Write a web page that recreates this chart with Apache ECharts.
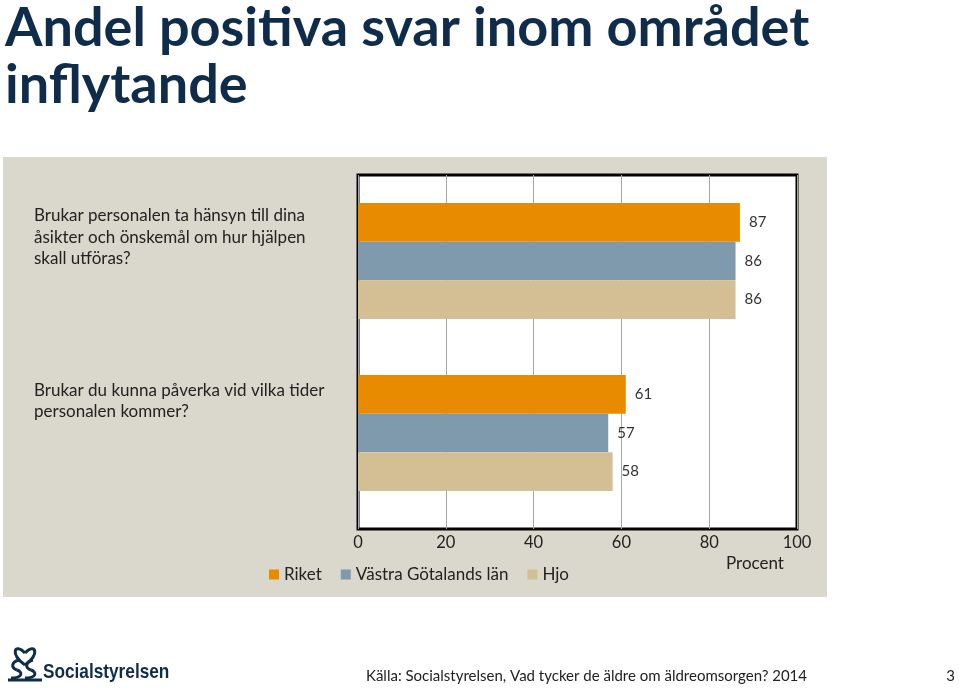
<!DOCTYPE html>
<html>
<head>
<meta charset="utf-8">
<script src="https://cdn.jsdelivr.net/npm/echarts@6/dist/echarts.min.js"></script>
<style>
html,body{margin:0;padding:0;background:#fff;}
#chart{width:959px;height:688px;}
</style>
</head>
<body>
<div id="chart"></div>
<script>
var titleLines = ['Andel positiva svar inom området', 'inflytande'];
var categories = [
  'Brukar personalen ta hänsyn till dina\nåsikter och önskemål om hur hjälpen\nskall utföras?',
  'Brukar du kunna påverka vid vilka tider\npersonalen kommer?'
];
var seriesNames = ['Riket', 'Västra Götalands län', 'Hjo'];
var riket = [87, 61];
var vastraGotaland = [86, 57];
var hjo = [86, 58];
var xTicks = [0, 20, 40, 60, 80, 100];
var axisName = 'Procent';
var sourceText = 'Källa: Socialstyrelsen, Vad tycker de äldre om äldreomsorgen? 2014';
var pageNumber = '3';
var logoText = 'Socialstyrelsen';

var colors = ['#E98B00', '#7F9AAD', '#D4BE94'];
var FONT = 'Lato';
var NAVY = '#0F2D4B';

var chart = echarts.init(document.getElementById('chart'), null, {renderer: 'canvas'});

function mkSeries(name, data, color) {
  return {
    name: name, type: 'bar', data: data, xAxisIndex: 1, yAxisIndex: 1,
    barGap: '0%', barCategoryGap: '32.7%',
    itemStyle: {color: color},
    label: {show: true, position: 'right', distance: 9, color: '#333', fontFamily: FONT, fontSize: 15}
  };
}
function curve(x1, y1, c1x, c1y, c2x, c2y, x2, y2) {
  return {type: 'bezierCurve', shape: {x1: x1, y1: y1, cpx1: c1x, cpy1: c1y, cpx2: c2x, cpy2: c2y, x2: x2, y2: y2},
    style: {stroke: NAVY, lineWidth: 3, fill: null}};
}
var xMin = xTicks[0], xMax = xTicks[xTicks.length - 1], xInt = xTicks[1] - xTicks[0];

var option = {
  animation: false,
  textStyle: {fontFamily: FONT},
  graphic: {
    elements: [
      {type: 'rect', z: -1, shape: {x: 3, y: 157, width: 824, height: 440}, style: {fill: '#DAD8CC'}},
      {type: 'text', x: 5, y: 0, style: {text: titleLines.join('\n'), font: 'bold 54px Lato', fill: NAVY, lineHeight: 57}},
      curve(25, 665, 10, 655, 14, 642, 25, 653),
      curve(25, 665, 40, 655, 36, 642, 25, 653),
      curve(19, 660, 11, 662, 11, 668, 17, 670),
      curve(17, 670, 23, 672, 23, 678, 11, 678),
      curve(33, 660, 25, 662, 25, 668, 31, 670),
      curve(31, 670, 37, 672, 37, 678, 25, 678),
      {type: 'line', shape: {x1: 8, y1: 680, x2: 42, y2: 680}, style: {stroke: NAVY, lineWidth: 3}},
      {type: 'text', x: 43, y: 672, scaleX: 0.82, style: {text: logoText, font: 'bold 21px "Liberation Sans"', fill: NAVY, verticalAlign: 'middle'}},
      {type: 'text', x: 366, y: 676, style: {text: sourceText, font: '15px Lato', fill: '#222', verticalAlign: 'middle'}},
      {type: 'text', x: 955, y: 676, style: {text: pageNumber, font: '15px Lato', fill: '#222', align: 'right', verticalAlign: 'middle'}}
    ]
  },
  legend: {
    data: seriesNames, left: 264, top: 561, icon: 'rect', itemWidth: 10, itemHeight: 10, itemGap: 19,
    textStyle: {fontFamily: FONT, fontSize: 17, color: '#222'}
  },
  grid: [
    {left: 358, top: 175, width: 439, height: 354, show: true, backgroundColor: '#fff', borderColor: '#000', borderWidth: 3},
    {left: 358, top: 175, width: 439, height: 344, show: false}
  ],
  xAxis: [{
    gridIndex: 0, type: 'value', min: xMin, max: xMax, interval: xInt,
    axisLine: {show: false}, axisTick: {show: false},
    splitLine: {show: true, lineStyle: {color: '#A6A6A6', width: 1}},
    axisLabel: {color: '#222', fontFamily: FONT, fontSize: 16.5, margin: 5},
    name: axisName, nameLocation: 'end', nameGap: -42,
    nameTextStyle: {color: '#222', fontFamily: FONT, fontSize: 17, align: 'center', verticalAlign: 'top', padding: [26, 0, 0, 0]}
  }, {
    gridIndex: 1, type: 'value', min: xMin, max: xMax, interval: xInt, show: false
  }],
  yAxis: [{
    gridIndex: 0, type: 'category', data: categories, inverse: true, show: false
  }, {
    gridIndex: 1, type: 'category', data: categories, inverse: true,
    axisLine: {show: false}, axisTick: {show: false}, splitLine: {show: false},
    axisLabel: {
      align: 'left', margin: 324, color: '#222', fontFamily: FONT, fontSize: 17, lineHeight: 21.5,
      formatter: function (v, i) { return v + '\n{s' + i + '| }'; },
      rich: {s0: {height: 47, lineHeight: 47}, s1: {height: 64, lineHeight: 64}}
    }
  }],
  series: [
    mkSeries(seriesNames[0], riket, colors[0]),
    mkSeries(seriesNames[1], vastraGotaland, colors[1]),
    mkSeries(seriesNames[2], hjo, colors[2])
  ]
};
chart.setOption(option);
</script>
</body>
</html>
